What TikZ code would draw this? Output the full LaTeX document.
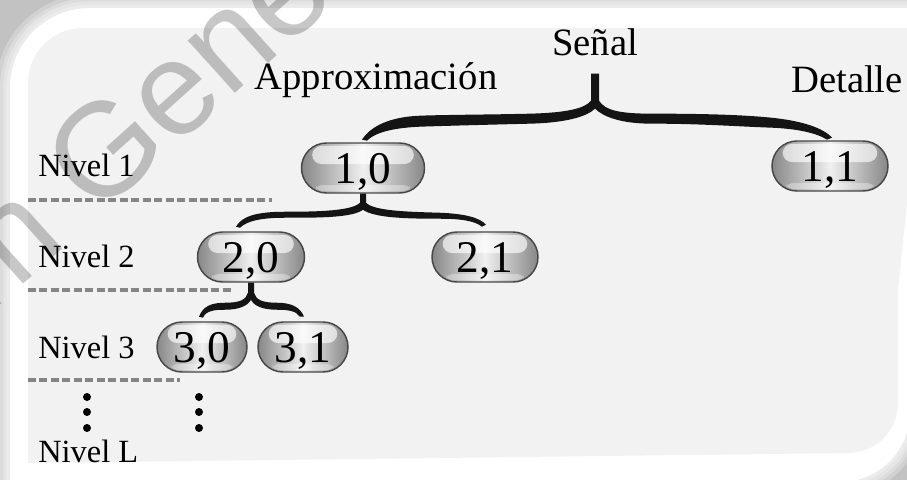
\documentclass[tikz,border=0pt]{standalone}
\usepackage{fontspec}
\setmainfont{Liberation Serif}
\newfontfamily\wmfont{Liberation Sans}
\usetikzlibrary{shapes.misc,calc}

% frame outlines (pixel units, y pointing down)
\newcommand\outershape{(10,482) -- (10,88) .. controls (10,43.8) and (45.8,8) .. (90,8) -- (910,8) -- (910,412) .. controls (910,450.7) and (878.7,482) .. (840,482) -- cycle}
\newcommand\innershape{(28,463) -- (28,83) .. controls (28,52.6) and (52.6,28) .. (83,28) -- (925,28) -- (898,290) -- (898,403) .. controls (898,430.6) and (875.6,453) .. (848,453) -- cycle}

\tikzset{
  lvl/.style={anchor=base west, inner sep=0pt, font=\fontsize{24.3}{29}\selectfont},
  head/.style={anchor=base, inner sep=0pt, font=\fontsize{29}{34}\selectfont},
  pill/.style={rounded rectangle, draw=black!72, line width=1.1pt,
    minimum height=37.5pt, minimum width=#1*0.75pt, inner sep=0pt,
    left color=black!47, right color=black!47, middle color=black!6,
    font=\fontsize{34}{38}\selectfont, text height=23pt, text depth=0pt,
    path picture={
      \fill[white, fill opacity=0.65, rounded corners=7pt]
        ([xshift=8pt,yshift=-2.2pt]path picture bounding box.north west) rectangle
        ([xshift=-8pt,yshift=3pt]path picture bounding box.east);
      \fill[white, fill opacity=0.35, rounded corners=4pt]
        ([xshift=11pt,yshift=1.5pt]path picture bounding box.south west) rectangle
        ([xshift=-11pt,yshift=6pt]path picture bounding box.south east);
    }},
  sep/.style={draw=black!48, line width=2.4pt, dash pattern=on 6pt off 2.6pt},
  bracefill/.style={fill=black!92},
  wm/.style={font=\wmfont\fontsize{100}{100}\selectfont, text=black, opacity=0.22, inner sep=0pt}
}

\begin{document}
\begin{tikzpicture}[x=0.75pt,y=-0.75pt]
\useasboundingbox (0,0) rectangle (907,480);

% backdrop and soft glow around the card
\fill[black!24] (0,0) rectangle (907,480);
\foreach \w in {21pt,15pt,10pt,5pt}
  \draw[white, opacity=0.26, line width=\w] \outershape;
\fill[white] \outershape;
\fill[black!5] \innershape;

% headings
\node[head] (senal) at (595,55) {Señal};
\node[head] (aprox) at (376,89) {Approximación};
\node[head] (detalle) at (847,92) {Detalle};

% level labels
\node[lvl] (lv1) at (38,176) {Nivel 1};
\node[lvl] (lv2) at (38,267) {Nivel 2};
\node[lvl] (lv3) at (38,358) {Nivel 3};
\node[lvl] (lvL) at (38,462) {Nivel L};

% level separators
\draw[sep] (28,200) -- (272,200);
\draw[sep] (28,290) -- (233,290);
\draw[sep] (28,380) -- (180,380);

% coefficient nodes
\node[pill=123] (p10) at (363,168) {1,0};
\node[pill=116] (p11) at (830,166) {1,1};
\node[pill=107] (p20) at (251,257) {2,0};
\node[pill=106] (p21) at (485,257) {2,1};
\node[pill=90]  (p30) at (202,347) {3,0};
\node[pill=90]  (p31) at (303,347) {3,1};

% brace: signal -> (1,0), (1,1)
\begin{scope}[shift={($(senal.south)+(0,18)$)}]
\fill[bracefill] (-233,66)
  .. controls (-224,52) and (-204,43) .. (-174,42)
  .. controls (-144,41) and (-104,41) .. (-64,40)
  .. controls (-29,39) and (-10,35) .. (-4,27)
  -- (-4,0) -- (4,0) -- (4,27)
  .. controls (10,37) and (26,40) .. (56,40)
  .. controls (106,40) and (146,41) .. (176,44)
  .. controls (206,47) and (228,54) .. (237,64)
  -- (232,66)
  .. controls (221,59) and (201,55) .. (176,54)
  .. controls (146,53) and (106,50) .. (56,50)
  .. controls (26,50) and (8,43) .. (0,35)
  .. controls (-8,43) and (-29,49) .. (-64,50)
  .. controls (-104,51) and (-144,52) .. (-174,53)
  .. controls (-199,54) and (-219,58) .. (-228,67)
  -- cycle;
\end{scope}

% brace: (1,0) -> (2,0), (2,1)
\begin{scope}[shift={(p10.south)}]
\fill[bracefill] (-127,33)
  .. controls (-121,22) and (-105,18) .. (-78,18)
  .. controls (-43,18) and (-11,17) .. (-3,9)
  -- (-3,0) -- (3,0) -- (3,9)
  .. controls (11,17) and (42,18) .. (77,19)
  .. controls (102,20) and (117,24) .. (123,31)
  -- (119,33)
  .. controls (112,27) and (97,25) .. (77,25)
  .. controls (42,25) and (11,24) .. (0,16)
  .. controls (-11,24) and (-43,24) .. (-78,24)
  .. controls (-101,24) and (-116,27) .. (-123,34)
  -- cycle;
\end{scope}

% brace: (2,0) -> (3,0), (3,1)
\begin{scope}[shift={(p20.south)}]
\fill[bracefill] (-52,34)
  .. controls (-48,23) and (-39,20) .. (-26,20)
  .. controls (-11,20) and (-5,17) .. (-3,10)
  -- (-3,0) -- (3,0) -- (3,10)
  .. controls (5,17) and (11,20) .. (26,20)
  .. controls (40,20) and (49,24) .. (53,34)
  -- (49,34)
  .. controls (45,28) and (37,27) .. (26,27)
  .. controls (11,27) and (3,23) .. (0,17)
  .. controls (-3,23) and (-12,27) .. (-26,27)
  .. controls (-37,27) and (-45,28) .. (-48,35)
  -- cycle;
\end{scope}

% vertical ellipses towards level L
\foreach \x in {87,199}
  \foreach \y in {397,412,428}
    \fill (\x,\y) circle[radius=3pt];

% watermark
\node[wm, anchor=base west, rotate=42] (mark) at (-14,318) {m Gener};
\end{tikzpicture}
\end{document}
